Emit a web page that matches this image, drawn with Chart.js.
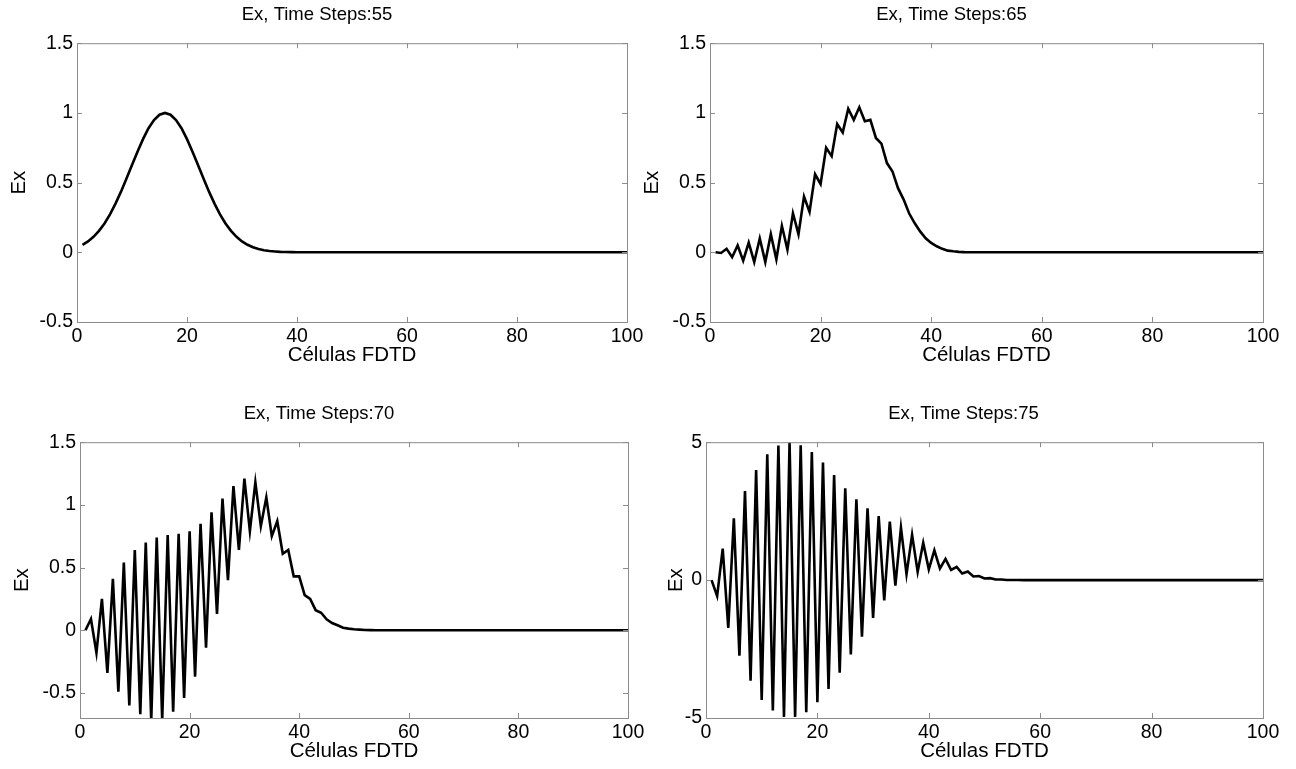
<!DOCTYPE html>
<html>
<head>
<meta charset="utf-8">
<script src="https://cdn.jsdelivr.net/npm/chart.js@4.4.1/dist/chart.umd.min.js"></script>
<style>
  body { margin: 0; background: #fff; width: 1296px; height: 769px; position: relative; overflow: hidden; }
  canvas { position: absolute; }
</style>
</head>
<body>
<canvas id="c55"></canvas>
<canvas id="c65"></canvas>
<canvas id="c70"></canvas>
<canvas id="c75"></canvas>
<script>
// FDTD cells 1..100
var cells = Array.from({ length: 100 }, function (_, i) { return i + 1; });
var xTicks = [0, 20, 40, 60, 80, 100];

var ex55 = [
  0.054, 0.078, 0.111, 0.154, 0.207, 0.272, 0.349, 0.435, 0.529, 0.626,
  0.722, 0.812, 0.890, 0.949, 0.987, 1.000, 0.987, 0.949, 0.890, 0.812,
  0.722, 0.626, 0.529, 0.435, 0.349, 0.272, 0.207, 0.154, 0.111, 0.078,
  0.054, 0.036, 0.023, 0.015, 0.009, 0.006, 0.003, 0.002, 0.001, 0,
  0, 0, 0, 0, 0, 0, 0, 0, 0, 0,
  0, 0, 0, 0, 0, 0, 0, 0, 0, 0,
  0, 0, 0, 0, 0, 0, 0, 0, 0, 0,
  0, 0, 0, 0, 0, 0, 0, 0, 0, 0,
  0, 0, 0, 0, 0, 0, 0, 0, 0, 0,
  0, 0, 0, 0, 0, 0, 0, 0, 0, 0
];

var ex65 = [
  0, -0.005, 0.025, -0.035, 0.05, -0.06, 0.07, -0.07, 0.1, -0.07,
  0.13, -0.05, 0.19, 0.02, 0.28, 0.13, 0.4, 0.29, 0.56, 0.49,
  0.75, 0.69, 0.92, 0.86, 1.03, 0.95, 1.04, 0.94, 0.95, 0.82,
  0.78, 0.64, 0.58, 0.46, 0.38, 0.28, 0.21, 0.15, 0.10, 0.067,
  0.043, 0.025, 0.012, 0.007, 0.003, 0.001, 0, 0, 0, 0,
  0, 0, 0, 0, 0, 0, 0, 0, 0, 0,
  0, 0, 0, 0, 0, 0, 0, 0, 0, 0,
  0, 0, 0, 0, 0, 0, 0, 0, 0, 0,
  0, 0, 0, 0, 0, 0, 0, 0, 0, 0,
  0, 0, 0, 0, 0, 0, 0, 0, 0, 0
];

var ex70 = [
  0, 0.09, -0.18, 0.25, -0.34, 0.41, -0.49, 0.54, -0.6, 0.64,
  -0.67, 0.70, -0.72, 0.74, -0.72, 0.76, -0.65, 0.77, -0.54, 0.79,
  -0.37, 0.85, -0.14, 0.94, 0.13, 1.05, 0.40, 1.15, 0.64, 1.21,
  0.79, 1.18, 0.83, 1.06, 0.75, 0.87, 0.61, 0.64, 0.43, 0.43,
  0.28, 0.25, 0.16, 0.14, 0.087, 0.058, 0.04, 0.02, 0.013, 0.008,
  0.005, 0.002, 0.001, 0, 0, 0, 0, 0, 0, 0,
  0, 0, 0, 0, 0, 0, 0, 0, 0, 0,
  0, 0, 0, 0, 0, 0, 0, 0, 0, 0,
  0, 0, 0, 0, 0, 0, 0, 0, 0, 0,
  0, 0, 0, 0, 0, 0, 0, 0, 0, 0
];

var ex75 = [
  0, -0.58, 1.14, -1.73, 2.24, -2.74, 3.23, -3.65, 3.99, -4.35,
  4.56, -4.73, 4.88, -4.96, 5.0, -4.96, 4.89, -4.79, 4.64, -4.43,
  4.26, -3.95, 3.81, -3.36, 3.33, -2.70, 2.93, -2.05, 2.6, -1.37,
  2.32, -0.74, 2.12, -0.2, 1.9, 0.21, 1.64, 0.30, 1.35, 0.39,
  1.08, 0.42, 0.77, 0.37, 0.48, 0.24, 0.31, 0.13, 0.15, 0.06,
  0.07, 0.02, 0.02, 0.005, 0.003, 0.001, 0, 0, 0, 0,
  0, 0, 0, 0, 0, 0, 0, 0, 0, 0,
  0, 0, 0, 0, 0, 0, 0, 0, 0, 0,
  0, 0, 0, 0, 0, 0, 0, 0, 0, 0,
  0, 0, 0, 0, 0, 0, 0, 0, 0, 0
];

var FONT = '"Liberation Sans", Arial, Helvetica, sans-serif';
var TITLE_SIZE = 18.5;
var TITLE_PAD = 17;
var TITLE_H = TITLE_SIZE * 1.2 + TITLE_PAD;
var XAXIS_H = 46;

// matlab style box with inward ticks
var boxPlugin = {
  id: 'box',
  afterDatasetsDraw: function (chart) {
    var ctx = chart.ctx, a = chart.chartArea;
    var xs = chart.scales.x, ys = chart.scales.y;
    ctx.save();
    ctx.strokeStyle = '#8c8c8c';
    ctx.lineWidth = 1;
    ctx.strokeRect(a.left + 0.5, a.top + 0.5, a.right - a.left, a.bottom - a.top);
    ctx.beginPath();
    xs.ticks.forEach(function (t) {
      var px = Math.round(xs.getPixelForValue(t.value)) + 0.5;
      ctx.moveTo(px, a.bottom); ctx.lineTo(px, a.bottom - 5);
      ctx.moveTo(px, a.top); ctx.lineTo(px, a.top + 5);
    });
    ys.ticks.forEach(function (t) {
      var py = Math.round(ys.getPixelForValue(t.value)) + 0.5;
      ctx.moveTo(a.left, py); ctx.lineTo(a.left + 5, py);
      ctx.moveTo(a.right, py); ctx.lineTo(a.right - 5, py);
    });
    ctx.stroke();
    ctx.restore();
  }
};

function fmt(v) { return String(Math.round(v * 10) / 10); }

function makePanel(id, box, title, values, yMin, yMax, yStep) {
  var el = document.getElementById(id);
  var yw = box.yAxisW;
  var padRight = box.padRight;
  var w = (box.right - box.left) + yw + padRight;
  var h = TITLE_H + (box.bottom - box.top) + XAXIS_H;
  el.width = w; el.height = h;
  el.style.left = (box.left - yw) + 'px';
  el.style.top = (box.top - TITLE_H) + 'px';
  el.style.width = w + 'px'; el.style.height = h + 'px';

  var pts = cells.map(function (c, i) { return { x: c, y: values[i] }; });

  return new Chart(el.getContext('2d'), {
    type: 'line',
    data: {
      datasets: [{
        data: pts,
        borderColor: '#000',
        borderWidth: 2.6,
        pointRadius: 0,
        tension: 0,
        fill: false
      }]
    },
    options: {
      responsive: false,
      animation: false,
      events: [],
      layout: { padding: { left: 0, right: padRight, top: 0, bottom: 0 } },
      plugins: {
        legend: { display: false },
        tooltip: { enabled: false },
        title: {
          display: true,
          text: title,
          color: '#000',
          font: { family: FONT, size: TITLE_SIZE, weight: 'normal', lineHeight: 1.2 },
          padding: { top: 0, bottom: TITLE_PAD }
        }
      },
      scales: {
        x: {
          type: 'linear',
          min: 0, max: 100,
          afterBuildTicks: function (s) { s.ticks = xTicks.map(function (v) { return { value: v }; }); },
          afterFit: function (s) { s.height = XAXIS_H; },
          grid: { display: false, drawTicks: false },
          border: { display: false },
          ticks: { color: '#000', padding: 3, maxRotation: 0, autoSkip: false, callback: fmt, font: { family: FONT, size: 19.5 } },
          title: { display: true, text: 'Células FDTD', color: '#000', padding: 0, font: { family: FONT, size: 20.5, lineHeight: 1.2 } }
        },
        y: {
          type: 'linear',
          min: yMin, max: yMax,
          afterFit: function (s) { s.width = yw; },
          grid: { display: false, drawTicks: false },
          border: { display: false },
          ticks: { color: '#000', stepSize: yStep, includeBounds: false, padding: 4, callback: fmt, font: { family: FONT, size: 19.5 } },
          title: { display: true, text: 'Ex', color: '#000', padding: 0, font: { family: FONT, size: 20.5, lineHeight: 1.2 } }
        }
      }
    },
    plugins: [boxPlugin]
  });
}

makePanel('c55', { left: 77, right: 627, top: 43, bottom: 322, yAxisW: 70, padRight: 30 }, 'Ex, Time Steps:55', ex55, -0.5, 1.5, 0.5);
makePanel('c65', { left: 710, right: 1263, top: 43, bottom: 322, yAxisW: 70, padRight: 33 }, 'Ex, Time Steps:65', ex65, -0.5, 1.5, 0.5);
makePanel('c70', { left: 80, right: 628, top: 442, bottom: 718, yAxisW: 70, padRight: 30 }, 'Ex, Time Steps:70', ex70, -0.7, 1.5, 0.5);
makePanel('c75', { left: 706, right: 1263, top: 442, bottom: 718, yAxisW: 42, padRight: 33 }, 'Ex, Time Steps:75', ex75, -5, 5, 5);
</script>
</body>
</html>
